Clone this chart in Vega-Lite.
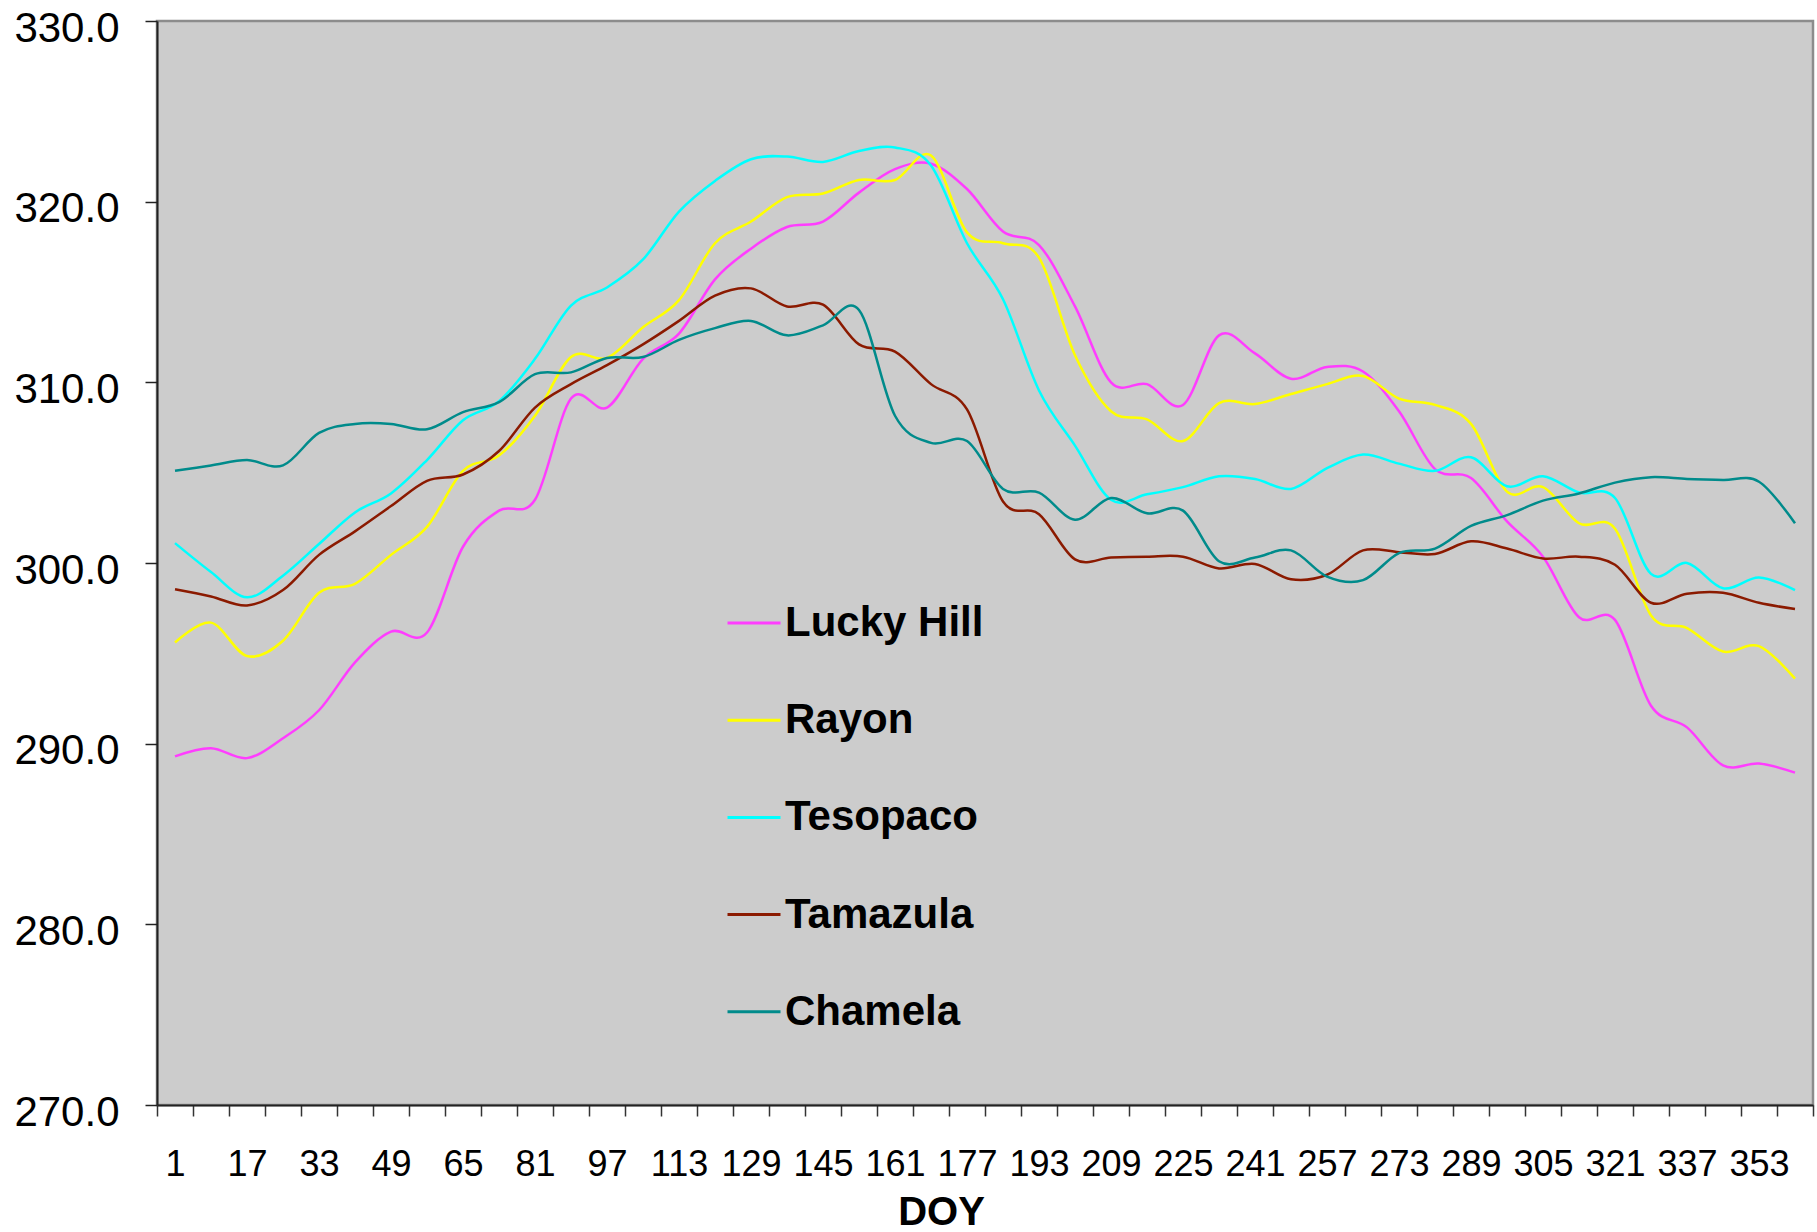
{
"$schema": "https://vega.github.io/schema/vega-lite/v6.json",
"width": 1656, "height": 1084,
"autosize": {"type": "none"},
"padding": {"left": 157, "top": 21, "right": 4, "bottom": 127},
"background": "white",
"config": {"view": {"fill": "#cccccc", "stroke": "#8c8c8c", "strokeWidth": 2.5}, "font": "Liberation Sans"},
"data": {"values": [
{"site":"Lucky Hill","DOY":1,"T":289.3},{"site":"Lucky Hill","DOY":9,"T":289.75},{"site":"Lucky Hill","DOY":17,"T":289.2},{"site":"Lucky Hill","DOY":25,"T":290.3},{"site":"Lucky Hill","DOY":33,"T":291.85},{"site":"Lucky Hill","DOY":41,"T":294.5},{"site":"Lucky Hill","DOY":49,"T":296.2},{"site":"Lucky Hill","DOY":57,"T":296.15},{"site":"Lucky Hill","DOY":65,"T":300.9},{"site":"Lucky Hill","DOY":73,"T":302.9},{"site":"Lucky Hill","DOY":81,"T":303.5},{"site":"Lucky Hill","DOY":89,"T":309.1},{"site":"Lucky Hill","DOY":97,"T":308.6},{"site":"Lucky Hill","DOY":105,"T":311.3},{"site":"Lucky Hill","DOY":113,"T":312.7},{"site":"Lucky Hill","DOY":121,"T":315.7},{"site":"Lucky Hill","DOY":129,"T":317.4},{"site":"Lucky Hill","DOY":137,"T":318.6},{"site":"Lucky Hill","DOY":145,"T":318.9},{"site":"Lucky Hill","DOY":153,"T":320.5},{"site":"Lucky Hill","DOY":161,"T":321.8},{"site":"Lucky Hill","DOY":169,"T":322.1},{"site":"Lucky Hill","DOY":177,"T":320.7},{"site":"Lucky Hill","DOY":185,"T":318.35},{"site":"Lucky Hill","DOY":193,"T":317.6},{"site":"Lucky Hill","DOY":201,"T":314.2},{"site":"Lucky Hill","DOY":209,"T":310.0},{"site":"Lucky Hill","DOY":217,"T":309.9},{"site":"Lucky Hill","DOY":225,"T":308.75},{"site":"Lucky Hill","DOY":233,"T":312.6},{"site":"Lucky Hill","DOY":241,"T":311.6},{"site":"Lucky Hill","DOY":249,"T":310.2},{"site":"Lucky Hill","DOY":257,"T":310.85},{"site":"Lucky Hill","DOY":265,"T":310.6},{"site":"Lucky Hill","DOY":273,"T":308.4},{"site":"Lucky Hill","DOY":281,"T":305.2},{"site":"Lucky Hill","DOY":289,"T":304.7},{"site":"Lucky Hill","DOY":297,"T":302.3},{"site":"Lucky Hill","DOY":305,"T":300.35},{"site":"Lucky Hill","DOY":313,"T":297.0},{"site":"Lucky Hill","DOY":321,"T":296.85},{"site":"Lucky Hill","DOY":329,"T":292.1},{"site":"Lucky Hill","DOY":337,"T":290.9},{"site":"Lucky Hill","DOY":345,"T":288.8},{"site":"Lucky Hill","DOY":353,"T":288.9},{"site":"Lucky Hill","DOY":361,"T":288.4},
{"site":"Rayon","DOY":1,"T":295.6},{"site":"Rayon","DOY":9,"T":296.7},{"site":"Rayon","DOY":17,"T":294.85},{"site":"Rayon","DOY":25,"T":295.7},{"site":"Rayon","DOY":33,"T":298.35},{"site":"Rayon","DOY":41,"T":298.85},{"site":"Rayon","DOY":49,"T":300.45},{"site":"Rayon","DOY":57,"T":302.0},{"site":"Rayon","DOY":65,"T":305.1},{"site":"Rayon","DOY":73,"T":305.95},{"site":"Rayon","DOY":81,"T":308.15},{"site":"Rayon","DOY":89,"T":311.4},{"site":"Rayon","DOY":97,"T":311.35},{"site":"Rayon","DOY":105,"T":313.05},{"site":"Rayon","DOY":113,"T":314.55},{"site":"Rayon","DOY":121,"T":317.7},{"site":"Rayon","DOY":129,"T":318.9},{"site":"Rayon","DOY":137,"T":320.25},{"site":"Rayon","DOY":145,"T":320.45},{"site":"Rayon","DOY":153,"T":321.2},{"site":"Rayon","DOY":161,"T":321.2},{"site":"Rayon","DOY":169,"T":322.55},{"site":"Rayon","DOY":177,"T":318.3},{"site":"Rayon","DOY":185,"T":317.7},{"site":"Rayon","DOY":193,"T":316.9},{"site":"Rayon","DOY":201,"T":311.5},{"site":"Rayon","DOY":209,"T":308.4},{"site":"Rayon","DOY":217,"T":307.95},{"site":"Rayon","DOY":225,"T":306.75},{"site":"Rayon","DOY":233,"T":308.85},{"site":"Rayon","DOY":241,"T":308.8},{"site":"Rayon","DOY":249,"T":309.35},{"site":"Rayon","DOY":257,"T":309.9},{"site":"Rayon","DOY":265,"T":310.35},{"site":"Rayon","DOY":273,"T":309.1},{"site":"Rayon","DOY":281,"T":308.75},{"site":"Rayon","DOY":289,"T":307.7},{"site":"Rayon","DOY":297,"T":303.95},{"site":"Rayon","DOY":305,"T":304.2},{"site":"Rayon","DOY":313,"T":302.2},{"site":"Rayon","DOY":321,"T":301.9},{"site":"Rayon","DOY":329,"T":297.1},{"site":"Rayon","DOY":337,"T":296.4},{"site":"Rayon","DOY":345,"T":295.1},{"site":"Rayon","DOY":353,"T":295.4},{"site":"Rayon","DOY":361,"T":293.6},
{"site":"Tesopaco","DOY":1,"T":301.1},{"site":"Tesopaco","DOY":9,"T":299.5},{"site":"Tesopaco","DOY":17,"T":298.1},{"site":"Tesopaco","DOY":25,"T":299.3},{"site":"Tesopaco","DOY":33,"T":301.05},{"site":"Tesopaco","DOY":41,"T":302.8},{"site":"Tesopaco","DOY":49,"T":303.85},{"site":"Tesopaco","DOY":57,"T":305.7},{"site":"Tesopaco","DOY":65,"T":307.9},{"site":"Tesopaco","DOY":73,"T":308.95},{"site":"Tesopaco","DOY":81,"T":311.3},{"site":"Tesopaco","DOY":89,"T":314.25},{"site":"Tesopaco","DOY":97,"T":315.25},{"site":"Tesopaco","DOY":105,"T":316.8},{"site":"Tesopaco","DOY":113,"T":319.45},{"site":"Tesopaco","DOY":121,"T":321.15},{"site":"Tesopaco","DOY":129,"T":322.35},{"site":"Tesopaco","DOY":137,"T":322.5},{"site":"Tesopaco","DOY":145,"T":322.2},{"site":"Tesopaco","DOY":153,"T":322.8},{"site":"Tesopaco","DOY":161,"T":323.0},{"site":"Tesopaco","DOY":169,"T":322.0},{"site":"Tesopaco","DOY":177,"T":317.7},{"site":"Tesopaco","DOY":185,"T":314.6},{"site":"Tesopaco","DOY":193,"T":309.55},{"site":"Tesopaco","DOY":201,"T":306.5},{"site":"Tesopaco","DOY":209,"T":303.5},{"site":"Tesopaco","DOY":217,"T":303.8},{"site":"Tesopaco","DOY":225,"T":304.2},{"site":"Tesopaco","DOY":233,"T":304.8},{"site":"Tesopaco","DOY":241,"T":304.65},{"site":"Tesopaco","DOY":249,"T":304.1},{"site":"Tesopaco","DOY":257,"T":305.25},{"site":"Tesopaco","DOY":265,"T":306.0},{"site":"Tesopaco","DOY":273,"T":305.5},{"site":"Tesopaco","DOY":281,"T":305.1},{"site":"Tesopaco","DOY":289,"T":305.85},{"site":"Tesopaco","DOY":297,"T":304.25},{"site":"Tesopaco","DOY":305,"T":304.8},{"site":"Tesopaco","DOY":313,"T":303.9},{"site":"Tesopaco","DOY":321,"T":303.6},{"site":"Tesopaco","DOY":329,"T":299.4},{"site":"Tesopaco","DOY":337,"T":300.0},{"site":"Tesopaco","DOY":345,"T":298.6},{"site":"Tesopaco","DOY":353,"T":299.2},{"site":"Tesopaco","DOY":361,"T":298.5},
{"site":"Tamazula","DOY":1,"T":298.55},{"site":"Tamazula","DOY":9,"T":298.15},{"site":"Tamazula","DOY":17,"T":297.65},{"site":"Tamazula","DOY":25,"T":298.5},{"site":"Tamazula","DOY":33,"T":300.45},{"site":"Tamazula","DOY":41,"T":301.75},{"site":"Tamazula","DOY":49,"T":303.15},{"site":"Tamazula","DOY":57,"T":304.55},{"site":"Tamazula","DOY":65,"T":304.9},{"site":"Tamazula","DOY":73,"T":306.2},{"site":"Tamazula","DOY":81,"T":308.6},{"site":"Tamazula","DOY":89,"T":309.9},{"site":"Tamazula","DOY":97,"T":310.95},{"site":"Tamazula","DOY":105,"T":312.1},{"site":"Tamazula","DOY":113,"T":313.4},{"site":"Tamazula","DOY":121,"T":314.8},{"site":"Tamazula","DOY":129,"T":315.2},{"site":"Tamazula","DOY":137,"T":314.2},{"site":"Tamazula","DOY":145,"T":314.3},{"site":"Tamazula","DOY":153,"T":312.1},{"site":"Tamazula","DOY":161,"T":311.7},{"site":"Tamazula","DOY":169,"T":309.9},{"site":"Tamazula","DOY":177,"T":308.5},{"site":"Tamazula","DOY":185,"T":303.4},{"site":"Tamazula","DOY":193,"T":302.7},{"site":"Tamazula","DOY":201,"T":300.2},{"site":"Tamazula","DOY":209,"T":300.3},{"site":"Tamazula","DOY":217,"T":300.35},{"site":"Tamazula","DOY":225,"T":300.35},{"site":"Tamazula","DOY":233,"T":299.7},{"site":"Tamazula","DOY":241,"T":299.95},{"site":"Tamazula","DOY":249,"T":299.1},{"site":"Tamazula","DOY":257,"T":299.35},{"site":"Tamazula","DOY":265,"T":300.7},{"site":"Tamazula","DOY":273,"T":300.6},{"site":"Tamazula","DOY":281,"T":300.5},{"site":"Tamazula","DOY":289,"T":301.2},{"site":"Tamazula","DOY":297,"T":300.8},{"site":"Tamazula","DOY":305,"T":300.25},{"site":"Tamazula","DOY":313,"T":300.35},{"site":"Tamazula","DOY":321,"T":299.9},{"site":"Tamazula","DOY":329,"T":297.8},{"site":"Tamazula","DOY":337,"T":298.3},{"site":"Tamazula","DOY":345,"T":298.35},{"site":"Tamazula","DOY":353,"T":297.8},{"site":"Tamazula","DOY":361,"T":297.45},
{"site":"Chamela","DOY":1,"T":305.1},{"site":"Chamela","DOY":9,"T":305.4},{"site":"Chamela","DOY":17,"T":305.7},{"site":"Chamela","DOY":25,"T":305.4},{"site":"Chamela","DOY":33,"T":307.2},{"site":"Chamela","DOY":41,"T":307.7},{"site":"Chamela","DOY":49,"T":307.7},{"site":"Chamela","DOY":57,"T":307.4},{"site":"Chamela","DOY":65,"T":308.35},{"site":"Chamela","DOY":73,"T":308.9},{"site":"Chamela","DOY":81,"T":310.45},{"site":"Chamela","DOY":89,"T":310.55},{"site":"Chamela","DOY":97,"T":311.35},{"site":"Chamela","DOY":105,"T":311.4},{"site":"Chamela","DOY":113,"T":312.35},{"site":"Chamela","DOY":121,"T":313.0},{"site":"Chamela","DOY":129,"T":313.4},{"site":"Chamela","DOY":137,"T":312.6},{"site":"Chamela","DOY":145,"T":313.15},{"site":"Chamela","DOY":153,"T":314.0},{"site":"Chamela","DOY":161,"T":308.15},{"site":"Chamela","DOY":169,"T":306.65},{"site":"Chamela","DOY":177,"T":306.75},{"site":"Chamela","DOY":185,"T":304.1},{"site":"Chamela","DOY":193,"T":303.9},{"site":"Chamela","DOY":201,"T":302.4},{"site":"Chamela","DOY":209,"T":303.6},{"site":"Chamela","DOY":217,"T":302.75},{"site":"Chamela","DOY":225,"T":302.9},{"site":"Chamela","DOY":233,"T":300.1},{"site":"Chamela","DOY":241,"T":300.3},{"site":"Chamela","DOY":249,"T":300.7},{"site":"Chamela","DOY":257,"T":299.25},{"site":"Chamela","DOY":265,"T":299.05},{"site":"Chamela","DOY":273,"T":300.55},{"site":"Chamela","DOY":281,"T":300.8},{"site":"Chamela","DOY":289,"T":302.05},{"site":"Chamela","DOY":297,"T":302.65},{"site":"Chamela","DOY":305,"T":303.45},{"site":"Chamela","DOY":313,"T":303.85},{"site":"Chamela","DOY":321,"T":304.45},{"site":"Chamela","DOY":329,"T":304.75},{"site":"Chamela","DOY":337,"T":304.65},{"site":"Chamela","DOY":345,"T":304.6},{"site":"Chamela","DOY":353,"T":304.5},{"site":"Chamela","DOY":361,"T":302.2}
]},
"mark": {"type": "line", "interpolate": "cardinal", "strokeWidth": 2.5},
"encoding": {
"x": {"field": "DOY", "type": "quantitative",
 "scale": {"domain": [-3, 365], "nice": false, "zero": false},
 "axis": {"values": [-3,5,13,21,29,37,45,53,61,69,77,85,93,101,109,117,125,133,141,149,157,165,173,181,189,197,205,213,221,229,237,245,253,261,269,277,285,293,301,309,317,325,333,341,349,357,365],
  "labelExpr": "datum.value < 360 && (datum.value + 3) % 16 == 0 ? toString(datum.value + 4) : ''",
  "labelOffset": 18, "tickSize": 11, "tickColor": "#333333", "tickWidth": 1.5,
  "domainColor": "#222222", "domainWidth": 2,
  "labelFontSize": 36, "labelColor": "black", "labelPadding": 31, "labelOverlap": false, "labelBound": false, "labelFlush": false,
  "grid": false, "title": "DOY", "titleFontSize": 40, "titleFontWeight": "bold", "titleColor": "black",
  "titleX": 784, "titleY": 119, "titleBaseline": "alphabetic", "titleAlign": "center", "titleAnchor": "start"}},
"y": {"field": "T", "type": "quantitative",
 "scale": {"domain": [270, 330], "nice": false, "zero": false},
 "axis": {"values": [270,280,290,300,310,320,330], "format": ".1f", "tickSize": 12, "tickColor": "#222222", "tickWidth": 1.5,
  "domainColor": "#222222", "domainWidth": 2,
  "labelFontSize": 42, "labelColor": "black", "labelPadding": 26, "labelOffset": 7, "grid": false, "title": null}},
"color": {"field": "site", "type": "nominal",
 "scale": {"domain": ["Lucky Hill","Rayon","Tesopaco","Tamazula","Chamela"], "range": ["#ff3dff","#ffff00","#00ffff","#8b1a00","#008b8b"]},
 "legend": {"orient": "none", "legendX": 569, "legendY": 574, "title": null, "padding": 0,
  "symbolType": "stroke", "symbolSize": 2809, "symbolStrokeWidth": 3,
  "labelFontSize": 42, "labelFontWeight": "bold", "labelColor": "black", "labelLimit": 600, "labelOffset": 3,
  "rowPadding": 48.2}}
}
}
